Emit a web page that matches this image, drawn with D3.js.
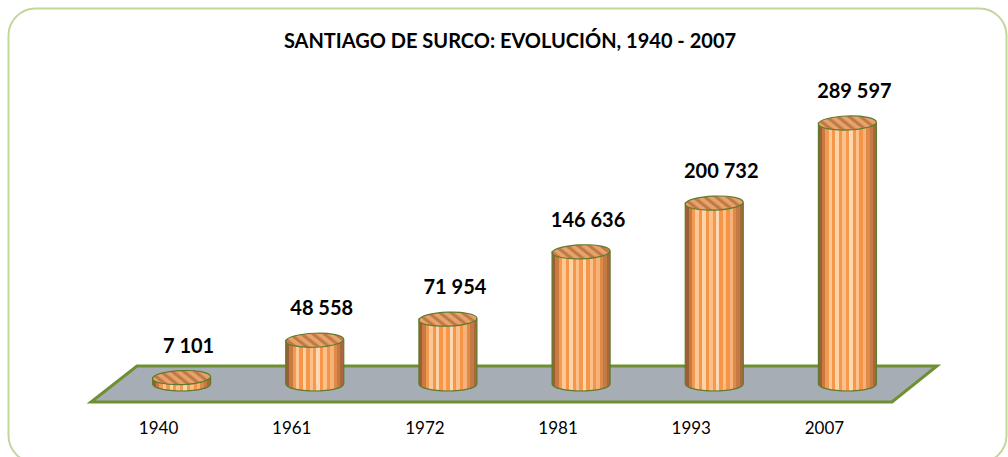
<!DOCTYPE html>
<html><head><meta charset="utf-8">
<script src="https://cdn.jsdelivr.net/npm/d3@7"></script>
<style>html,body{margin:0;padding:0;background:#fff;}svg{display:block;}</style>
</head><body>
<svg id="c" width="1008" height="457"></svg>
<script>
const years = ["1940","1961","1972","1981","1993","2007"];
const population = [7101, 48558, 71954, 146636, 200732, 289597];
const valueLabels = ["7 101","48 558","71 954","146 636","200 732","289 597"];
const title = "SANTIAGO DE SURCO: EVOLUCIÓN, 1940 - 2007";

const svg = d3.select("#c");
const defs = svg.append("defs");

// body stripes gradient
const stripeColors = ["#9c5f33","#c87a40","#f29a52","#fcc896","#f5964a","#fdd3aa","#f79646","#fcc08a","#f6994d","#fed8b2","#f79646","#fbc18c","#f59447","#f7b27a","#e08a48","#c37a45","#a8683c"];
const grad = defs.append("linearGradient").attr("id","body").attr("x1","0").attr("x2","1").attr("y1","0").attr("y2","0");
stripeColors.forEach((c,i)=>{
  const n = stripeColors.length;
  grad.append("stop").attr("offset", (i/n*100)+"%").attr("stop-color", c);
  grad.append("stop").attr("offset", ((i+1)/n*100)+"%").attr("stop-color", c);
});
// top hatch
const pat = defs.append("pattern").attr("id","hatch").attr("patternUnits","userSpaceOnUse")
  .attr("width",7).attr("height",7).attr("patternTransform","rotate(-50)");
pat.append("rect").attr("width",7).attr("height",7).attr("fill","#e8a36b");
pat.append("rect").attr("width",3.2).attr("height",7).attr("fill","#c07a48");

// border
svg.append("rect").attr("x",8.5).attr("y",8.5).attr("width",998).attr("height",454)
  .attr("rx",27).attr("fill","#fff").attr("stroke","#c3d69b").attr("stroke-width",2);

// title
svg.append("text").attr("x",510).attr("y",48).attr("text-anchor","middle")
  .attr("font-family","Lato, 'Open Sans', sans-serif").attr("font-weight","bold").attr("font-size",20)
  .attr("fill","#000").text(title);

// scales
const x = d3.scaleBand().domain(years).range([115, 914]).padding(0);
const y = d3.scaleLinear().domain([0, 300000]).range([384, 113.6]);

// floor
const floor = [[137,366],[937,366],[892,402],[91,402]];
svg.append("path").attr("d", d3.line()(floor)+"Z")
  .attr("fill","#a7adb4").attr("stroke","#6f8f33").attr("stroke-width",3).attr("stroke-linejoin","miter");

const rx = 29, ry = 7;
const g = svg.append("g");
years.forEach((yr,i)=>{
  const cx = x(yr) + x.bandwidth()/2;
  const base = y(0), top = y(population[i]);
  const b = g.append("g");
  const d = `M${cx-rx},${top} L${cx-rx},${base} A${rx},${ry} 0 0 0 ${cx+rx},${base} L${cx+rx},${top} Z`;
  b.append("path").attr("d",d).attr("fill","url(#body)").attr("stroke","#5f7a2c").attr("stroke-width",1.2);
  b.append("ellipse").attr("cx",cx).attr("cy",top).attr("rx",rx).attr("ry",ry)
    .attr("transform",`rotate(-2,${cx},${top})`)
    .attr("fill","url(#hatch)").attr("stroke","#5f7a2c").attr("stroke-width",1.2);
  svg.append("text").attr("x",cx+7).attr("y",top-25).attr("text-anchor","middle")
    .attr("font-family","Lato, 'Open Sans', sans-serif").attr("font-weight","bold").attr("font-size",20)
    .attr("fill","#000").text(valueLabels[i]);
  svg.append("text").attr("x",cx-23).attr("y",434).attr("text-anchor","middle")
    .attr("font-family","Lato, 'Open Sans', sans-serif").attr("font-size",17)
    .attr("fill","#000").text(yr);
});
</script>
</body></html>
